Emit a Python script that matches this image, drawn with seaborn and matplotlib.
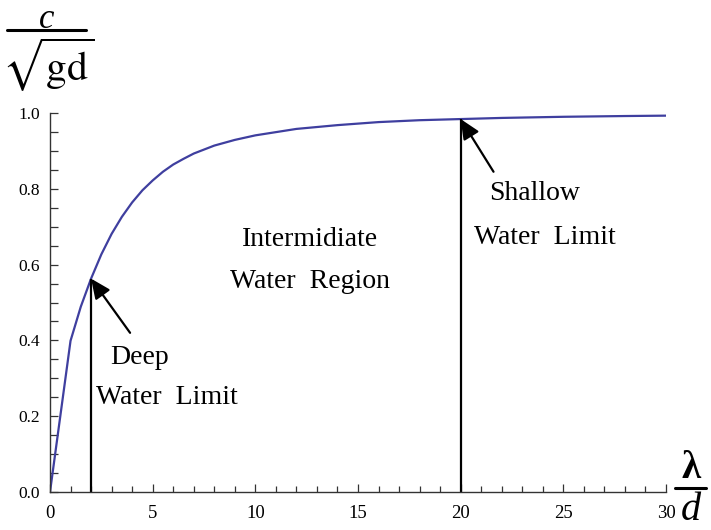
import matplotlib
matplotlib.use("Agg")
import matplotlib.pyplot as plt
import seaborn as sns
import pandas as pd
from matplotlib.lines import Line2D
from matplotlib.ticker import MultipleLocator, FormatStrFormatter

# data
wavelength_ratio = [0, 1, 1.5, 2, 2.5, 3, 3.5, 4, 4.5, 5, 5.5, 6, 6.5, 7, 8, 9, 10,
                    12, 14, 16, 18, 20, 22, 25, 28, 30]
celerity_ratio = [0.0, 0.399, 0.489, 0.563, 0.627, 0.681, 0.726, 0.764, 0.796, 0.822,
                  0.845, 0.864, 0.879, 0.893, 0.914, 0.929, 0.941,
                  0.958, 0.968, 0.976, 0.981, 0.984, 0.987, 0.990, 0.992, 0.993]
deep_limit_x = 2
deep_limit_y = 0.563
shallow_limit_x = 20
shallow_limit_y = 0.984

sns.set_theme(style="ticks")
plt.rcParams['font.family'] = ['Liberation Serif', 'DejaVu Serif']
plt.rcParams['mathtext.fontset'] = 'stix'
plt.rcParams['text.color'] = 'black'
plt.rcParams['xtick.labelcolor'] = 'black'
plt.rcParams['ytick.labelcolor'] = 'black'

df = pd.DataFrame({"x": wavelength_ratio, "y": celerity_ratio})

fig = plt.figure(figsize=(7.11, 5.30), dpi=100)
ax = fig.add_axes([50/711, 38/530, 616/711, 379/530])

sns.lineplot(data=df, x="x", y="y", ax=ax, color="#3f3f9f", lw=1.6)

ax.vlines([deep_limit_x, shallow_limit_x], 0, [deep_limit_y, shallow_limit_y],
          color="black", lw=1.6)

ax.set_xlim(0, 30)
ax.set_ylim(0, 1.0)
ax.set_xlabel("")
ax.set_ylabel("")
sns.despine(ax=ax)
for s in ["left", "bottom"]:
    ax.spines[s].set_color("#333333")
    ax.spines[s].set_linewidth(1.0)

ax.xaxis.set_major_locator(MultipleLocator(5))
ax.xaxis.set_minor_locator(MultipleLocator(1))
ax.yaxis.set_major_locator(MultipleLocator(0.2))
ax.yaxis.set_minor_locator(MultipleLocator(0.05))
ax.yaxis.set_major_formatter(FormatStrFormatter("%.1f"))
ax.tick_params(axis="both", which="both", direction="in", color="#333333",
               width=0.9, labelcolor="black")
ax.tick_params(axis="x", which="major", length=6, labelsize=13.5, pad=9)
ax.tick_params(axis="x", which="minor", length=4)
ax.tick_params(axis="y", which="both", length=6)
ax.tick_params(axis="y", which="major", labelsize=12.5, pad=7)

arrow_style = dict(arrowstyle="-|>,head_length=1.0,head_width=0.45",
                   color="black", lw=1.6, shrinkA=0, shrinkB=0)
ax.annotate("", xy=(deep_limit_x, deep_limit_y), xytext=(3.9, 0.42), arrowprops=arrow_style)
ax.annotate("", xy=(shallow_limit_x, shallow_limit_y), xytext=(21.6, 0.845), arrowprops=arrow_style)

fs = 20
def ftext(px, py, s, **kw):
    fig.text(px/711, 1 - py/530, s, ha="center", va="center", fontsize=fs, **kw)

ftext(310, 240, "Intermidiate")
ftext(310, 282, "Water  Region")
ftext(140, 357, "Deep")
ftext(167, 397, "Water  Limit")
ftext(535, 193, "Shallow")
ftext(545, 237, "Water  Limit")

# y-axis label: c / sqrt(gd)
fig.text(47/711, 1 - 19/530, "c", ha="center", va="center", fontsize=25, style="italic")
fig.add_artist(Line2D([7/711, 86/711], [1 - 30/530, 1 - 30/530], color="black", lw=2.2))
fig.text(48/711, 1 - 65/530, r"$\sqrt{\mathrm{gd}}$", ha="center", va="center", fontsize=30)

# x-axis label: lambda / d
fig.text(691/711, 1 - 469/530, "\u03bb", ha="center", va="center", fontsize=28, fontweight="bold")
fig.add_artist(Line2D([675/711, 706/711], [1 - 488/530, 1 - 488/530], color="black", lw=2.2))
fig.text(691/711, 1 - 510/530, "d", ha="center", va="center", fontsize=29, style="italic")

fig.savefig("out.png", dpi=100)
